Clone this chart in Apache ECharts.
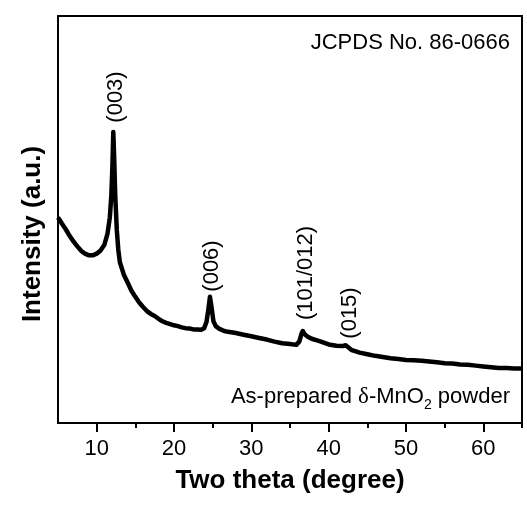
<!DOCTYPE html>
<html>
<head>
<meta charset="utf-8">
<title>XRD pattern of as-prepared δ-MnO2</title>
<script src="https://cdn.jsdelivr.net/npm/echarts@6.0.0/dist/echarts.min.js"></script>
<style>
  html, body { margin: 0; padding: 0; background: #ffffff; }
  #main { width: 527px; height: 510px; }
</style>
</head>
<body>
<div id="main"></div>
<script>
// 2 theta (degree)
const twoTheta = [
  5.0, 5.5, 6.0, 6.5, 7.0, 7.5, 8.0, 8.5, 9.0, 9.5, 10.0, 10.5, 11.0, 11.4, 11.7, 11.9,
  12.05, 12.15, 12.25, 12.4, 12.6, 12.8, 13.0, 13.5, 14.0, 14.5, 15.0, 15.5, 16.0, 16.5,
  17.0, 17.5, 18.0, 18.5, 19.0, 19.5, 20.0, 20.5, 21.0, 21.5, 22.0, 22.5, 23.0, 23.5,
  23.9, 24.2, 24.45, 24.65, 24.85, 25.1, 25.4, 25.8, 26.5, 27.0, 28.0, 29.0, 30.0, 31.0,
  32.0, 33.0, 34.0, 35.0, 35.8, 36.2, 36.5, 36.65, 36.9, 37.3, 37.8, 38.5, 39.0, 40.0,
  41.0, 41.8, 42.2, 42.6, 43.0, 44.0, 45.0, 46.0, 47.0, 48.0, 49.0, 50.0, 51.0, 52.0,
  53.0, 54.0, 55.0, 56.0, 57.0, 58.0, 59.0, 60.0, 61.0, 62.0, 63.0, 64.0, 65.0
];
// intensity (a.u.), same order
const intensity = [
  50.5, 49.0, 47.6, 46.0, 44.6, 43.4, 42.3, 41.6, 41.2, 41.2, 41.6, 42.4, 43.8, 46.5, 50.5, 56.0,
  64.0, 71.5, 66.0, 56.0, 47.5, 42.5, 39.5, 36.5, 34.5, 32.5, 31.0, 29.6, 28.5, 27.5,
  26.8, 26.3, 25.6, 25.0, 24.6, 24.3, 24.0, 23.8, 23.5, 23.3, 23.2, 23.0, 23.0, 22.9,
  23.3, 24.8, 28.0, 31.0, 28.5, 25.0, 23.8, 23.2, 22.6, 22.4, 22.1, 21.7, 21.3, 20.9,
  20.5, 20.0, 19.6, 19.4, 19.2, 20.0, 22.0, 22.6, 21.8, 21.2, 20.7, 20.3, 20.0, 19.3,
  19.0, 18.9, 19.1, 18.5, 17.9, 17.3, 16.9, 16.5, 16.2, 15.9, 15.7, 15.5, 15.4, 15.3,
  15.1, 14.9, 14.7, 14.6, 14.4, 14.3, 14.1, 13.9, 13.7, 13.5, 13.5, 13.4, 13.4
];
const majorTicks = [10, 20, 30, 40, 50, 60];
const minorTicks = [15, 25, 35, 45, 55, 65];
const peakNames = ['(003)', '(006)', '(101/012)', '(015)'];

const FONT = 'Arial, "Liberation Sans", sans-serif';

const chart = echarts.init(document.getElementById('main'));

const points = twoTheta.map((t, i) => [t, intensity[i]]);

// rotated peak labels, placed by hand above each peak
const peakPos = [[116, 97], [212, 266], [306, 273], [350, 313]];
const peakGraphics = peakNames.map((name, i) => ({
  type: 'text',
  x: peakPos[i][0],
  y: peakPos[i][1],
  rotation: Math.PI / 2,
  style: {
    text: name,
    font: '22px ' + FONT,
    fill: '#000',
    align: 'center',
    verticalAlign: 'middle'
  }
}));

const option = {
  backgroundColor: '#ffffff',
  animation: false,
  grid: {
    left: 58, right: 5, top: 16, bottom: 87,
    show: true,
    borderColor: '#000',
    borderWidth: 2,
    outerBoundsMode: 'none'
  },
  xAxis: [
    {
      type: 'value',
      min: 5, max: 65,
      position: 'bottom',
      name: 'Two theta (degree)',
      nameLocation: 'middle',
      nameGap: 45,
      nameTextStyle: { fontFamily: FONT, fontSize: 26, fontWeight: 'bold', color: '#000' },
      axisLine: { show: true, lineStyle: { color: '#000', width: 2 } },
      axisTick: { show: true, inside: false, length: 9, customValues: majorTicks,
        lineStyle: { color: '#000', width: 2 } },
      axisLabel: { show: true, customValues: majorTicks, margin: 15,
        fontFamily: FONT, fontSize: 22, color: '#000' },
      splitLine: { show: false }
    },
    {
      type: 'value',
      min: 5, max: 65,
      position: 'bottom',
      axisLine: { show: false },
      axisTick: { show: true, inside: false, length: 5, customValues: minorTicks,
        lineStyle: { color: '#000', width: 2 } },
      axisLabel: { show: false },
      splitLine: { show: false }
    }
  ],
  yAxis: {
    type: 'value',
    min: 0, max: 100,
    name: 'Intensity (a.u.)',
    nameLocation: 'middle',
    nameGap: 12,
    // the title sits a little below the middle of the axis
    nameTextStyle: { fontFamily: FONT, fontSize: 26, fontWeight: 'bold', color: '#000',
      padding: [0, 29, 0, 0] },
    axisLine: { show: true, lineStyle: { color: '#000', width: 2 } },
    axisTick: { show: false },
    axisLabel: { show: false },
    splitLine: { show: false }
  },
  series: [{
    type: 'line',
    data: points,
    xAxisIndex: 0,
    showSymbol: false,
    symbol: 'none',
    lineStyle: { color: '#000', width: 4.5, join: 'round' },
    z: 3
  }],
  graphic: peakGraphics.concat([
    {
      type: 'text',
      x: 510, y: 43,
      style: {
        text: 'JCPDS No. 86-0666',
        font: '22px ' + FONT,
        fill: '#000',
        align: 'right',
        verticalAlign: 'middle'
      }
    },
    {
      type: 'text',
      x: 510, y: 397,
      style: {
        text: 'As-prepared {d|δ}-MnO{s|2} powder',
        font: '22px ' + FONT,
        fill: '#000',
        align: 'right',
        verticalAlign: 'middle',
        lineHeight: 30,
        rich: {
          d: { fontFamily: '"Liberation Serif", "DejaVu Serif", serif', fontSize: 23, lineHeight: 30 },
          s: { fontFamily: FONT, fontSize: 14, lineHeight: 14, verticalAlign: 'bottom' }
        }
      }
    }
  ])
};

chart.setOption(option);
</script>
</body>
</html>
